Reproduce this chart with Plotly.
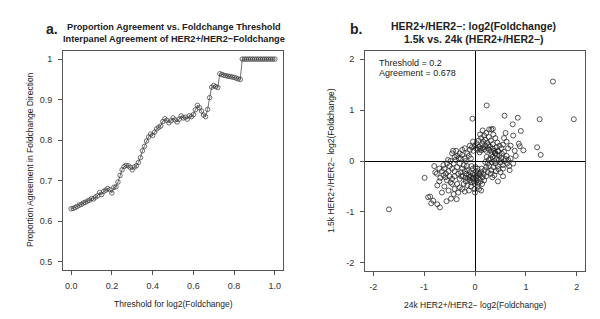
import plotly.graph_objects as go

# ---------------- Panel a data ----------------
threshold = [round(i * 0.01, 2) for i in range(101)]
agreement = [
    0.631, 0.632, 0.634, 0.637, 0.640, 0.642, 0.645, 0.647, 0.650, 0.652,
    0.656, 0.655, 0.660, 0.663, 0.671, 0.666, 0.674, 0.677, 0.681, 0.678,
    0.670, 0.684, 0.685, 0.697, 0.713, 0.727, 0.735, 0.738, 0.737, 0.733,
    0.727, 0.734, 0.737, 0.745, 0.757, 0.774, 0.785, 0.798, 0.808, 0.815,
    0.812, 0.820, 0.828, 0.832, 0.835, 0.846, 0.853, 0.849, 0.843, 0.848,
    0.855, 0.850, 0.845, 0.852, 0.860, 0.855, 0.857, 0.852, 0.860, 0.858,
    0.863, 0.875, 0.886, 0.880, 0.872, 0.862, 0.858, 0.876, 0.905, 0.931,
    0.935, 0.932, 0.930, 0.964, 0.962, 0.960, 0.959, 0.958, 0.957, 0.956,
    0.955, 0.953, 0.951, 0.950, 1.0, 1.0, 1.0, 1.0, 1.0, 1.0,
    1.0, 1.0, 1.0, 1.0, 1.0, 1.0, 1.0, 1.0, 1.0, 1.0, 1.0,
]
a_xticks = [0.0, 0.2, 0.4, 0.6, 0.8, 1.0]
a_xticklabels = ["0.0", "0.2", "0.4", "0.6", "0.8", "1.0"]
a_yticks = [0.5, 0.6, 0.7, 0.8, 0.9, 1.0]
a_yticklabels = ["0.5", "0.6", "0.7", "0.8", "0.9", "1"]

# ---------------- Panel b data ----------------
pts = [
    # top arc
    (0.02,0.25),(0.05,0.22),(0.08,0.28),(0.10,0.24),(0.12,0.21),(0.15,0.26),(0.18,0.23),(0.20,0.30),
    (0.22,0.20),(0.25,0.25),(0.28,0.22),(0.30,0.28),(0.33,0.18),(0.35,0.24),(0.38,0.20),(0.40,0.15),
    (0.42,0.27),(0.45,0.19),(0.03,0.35),(0.07,0.40),(0.12,0.45),(0.16,0.38),(0.20,0.42),(0.24,0.36),
    (0.27,0.47),(0.31,0.40),(0.35,0.33),(0.18,0.50),(0.22,0.55),(0.10,0.52),(0.00,0.30),(-0.03,0.20),
    (-0.06,0.27),(-0.10,0.22),(-0.04,0.38),(0.26,0.31),(0.14,0.33),(0.09,0.17),(0.32,0.12),(0.48,0.30),
    (0.52,0.25),(0.55,0.32),(0.44,0.36),(0.40,0.45),(0.36,0.52),(0.15,0.60),(0.28,0.62),(0.60,0.55),
    (0.57,0.45),(0.62,0.38),
    # right arc
    (0.30,0.05),(0.33,-0.02),(0.35,0.08),(0.38,0.00),(0.40,-0.05),(0.42,0.04),(0.45,-0.10),(0.47,0.02),
    (0.50,-0.03),(0.52,0.06),(0.55,-0.08),(0.58,0.00),(0.60,0.04),(0.63,-0.05),(0.36,-0.12),(0.32,-0.18),
    (0.28,-0.10),(0.25,-0.05),(0.27,0.02),(0.43,0.12),(0.48,0.10),(0.53,0.14),(0.57,0.18),(0.62,0.10),
    (0.65,0.02),(0.41,-0.20),(0.46,-0.16),(0.50,-0.22),(0.38,-0.28),(0.55,-0.15),(0.31,-0.25),(0.25,-0.22),
    (0.22,-0.12),(0.20,-0.02),(0.23,0.08),(0.67,-0.10),(0.70,0.05),(0.45,0.20),(0.39,0.16),(0.34,-0.32),
    # bottom arc
    (-0.20,-0.20),(-0.17,-0.25),(-0.15,-0.18),(-0.12,-0.28),(-0.10,-0.22),(-0.08,-0.30),(-0.05,-0.25),
    (-0.03,-0.33),(0.00,-0.27),(0.02,-0.20),(0.04,-0.30),(0.06,-0.24),(0.08,-0.35),(0.10,-0.28),
    (0.12,-0.22),(0.15,-0.32),(0.17,-0.26),(0.19,-0.18),(-0.02,-0.40),(0.00,-0.45),(0.03,-0.38),
    (-0.06,-0.42),(-0.10,-0.38),(-0.14,-0.35),(-0.18,-0.40),(0.07,-0.43),(0.11,-0.40),(0.14,-0.45),
    (0.05,-0.50),(-0.01,-0.55),(-0.08,-0.50),(-0.15,-0.48),(-0.22,-0.45),(-0.25,-0.55),(-0.20,-0.60),
    (0.00,-0.62),(0.08,-0.55),(0.12,-0.58),(-0.12,-0.58),(-0.04,-0.15),(0.01,-0.12),(-0.07,-0.10),
    (-0.24,-0.30),(-0.28,-0.22),(-0.30,-0.35),(0.18,-0.38),(0.22,-0.30),(-0.16,-0.10),(0.05,-0.15),
    (-0.35,-0.45),(-0.30,-0.52),(-0.40,-0.55),(-0.33,-0.62),(-0.45,-0.45),(0.02,-0.33),(-0.05,-0.35),
    (0.09,-0.25),(-0.11,-0.32),(0.13,-0.15),(-0.19,-0.33),
    # left arc
    (-0.55,-0.05),(-0.50,-0.10),(-0.48,0.00),(-0.45,-0.15),(-0.42,-0.05),(-0.40,-0.20),(-0.38,0.02),
    (-0.35,-0.12),(-0.33,-0.25),(-0.30,-0.05),(-0.28,0.05),(-0.25,-0.15),(-0.22,-0.08),(-0.52,-0.20),
    (-0.57,-0.25),(-0.60,-0.15),(-0.62,-0.28),(-0.65,-0.20),(-0.58,-0.32),(-0.50,-0.30),(-0.45,-0.35),
    (-0.40,-0.30),(-0.35,0.10),(-0.30,0.15),(-0.40,0.08),(-0.45,0.15),(-0.25,0.12),(-0.20,0.05),
    (-0.43,0.20),(-0.37,0.20),(-0.32,0.05),(-0.27,-0.30),(-0.55,-0.38),(-0.68,-0.33),(-0.70,-0.15),
    (-0.75,-0.25),(-0.62,-0.08),(-0.48,-0.42),(-0.18,0.00),(-0.15,0.15),(-0.20,0.25),(-0.12,0.10),
    (-0.25,0.22),(-0.10,0.30),(-0.08,0.05),(-0.53,0.02),
    # lower-left tail
    (-0.99,-0.33),(-0.92,-0.71),(-0.88,-0.70),(-0.86,-0.83),(-0.82,-0.78),(-0.74,-0.85),(-0.69,-0.91),
    (-0.56,-0.79),(-0.47,-0.74),(-0.36,-0.75),(-0.74,-0.48),(-0.70,-0.40),(-0.78,-0.22),(-0.80,-0.10),
    (-0.60,-0.50),(-0.65,-0.62),(-0.52,-0.58),(-0.42,-0.65),(-1.69,-0.95),
    # upper-right tail
    (1.53,1.56),(1.94,0.82),(1.27,0.82),(0.23,1.09),(-0.05,0.83),(0.58,0.89),(0.84,0.85),(0.74,0.72),
    (0.90,0.59),(1.22,0.27),(1.29,0.12),(0.95,0.21),(0.86,0.34),(0.88,0.29),(0.75,0.50),(0.32,0.62),
    (0.35,0.63),(0.70,0.30),(0.80,0.10),(0.75,-0.05),(0.68,-0.18),(0.55,-0.30),(0.45,-0.40),(0.78,0.20),
    (0.65,0.25),
]
fc_24k = [p[0] for p in pts]
fc_15k = [p[1] for p in pts]
b_ticks = [-2, -1, 0, 1, 2]
b_ticklabels = ["-2", "-1", "0", "1", "2"]

FONT = "Liberation Sans, Arial, sans-serif"
INK = "#222222"
BOX = "#555555"

fig = go.Figure()
fig.add_trace(go.Scatter(
    x=threshold, y=agreement, mode="lines+markers",
    line=dict(color="#333333", width=0.7),
    marker=dict(symbol="circle-open", size=4.5, color="#333333", line=dict(width=0.7)),
    xaxis="x", yaxis="y", showlegend=False,
))
fig.add_trace(go.Scatter(
    x=fc_24k, y=fc_15k, mode="markers",
    marker=dict(symbol="circle-open", size=5, color="#222222", line=dict(width=0.75)),
    xaxis="x2", yaxis="y2", showlegend=False,
))

axis_common = dict(
    showline=True, mirror=True, linecolor=BOX, linewidth=1,
    ticks="outside", ticklen=4, tickcolor=BOX, tickwidth=1,
    showgrid=False, tickfont=dict(family=FONT, size=9, color="#333333"),
)

fig.update_layout(
    width=600, height=319,
    margin=dict(l=0, r=0, t=0, b=0),
    paper_bgcolor="white", plot_bgcolor="white",
    xaxis=dict(domain=[55/600, 275/600], range=[-0.04, 1.04], zeroline=False,
               tickvals=a_xticks, ticktext=a_xticklabels, anchor="y",
               ticklabelstandoff=3, **axis_common),
    yaxis=dict(domain=[1-262/319, 1-43/319], range=[0.48, 1.02], zeroline=False,
               tickvals=a_yticks, ticktext=a_yticklabels, anchor="x",
               ticklabelstandoff=4, **axis_common),
    xaxis2=dict(domain=[357/600, 577/600], range=[-2.16, 2.16],
                zeroline=True, zerolinecolor="black", zerolinewidth=1.3,
                tickvals=b_ticks, ticktext=b_ticklabels, anchor="y2",
                ticklabelstandoff=3, **axis_common),
    yaxis2=dict(domain=[1-263/319, 1-43/319], range=[-2.16, 2.16],
                zeroline=True, zerolinecolor="black", zerolinewidth=1.3,
                tickvals=b_ticks, ticktext=b_ticklabels, anchor="x2",
                ticklabelstandoff=4, **axis_common),
)

def ann(text, x, y, size=9, bold=False, angle=0, xanchor="center"):
    fig.add_annotation(
        text=f"<b>{text}</b>" if bold else text,
        x=x/600, y=1-y/319, xref="paper", yref="paper",
        showarrow=False, xanchor=xanchor, yanchor="middle", textangle=angle,
        font=dict(family=FONT, size=size, color=INK),
    )

ann("a.", 44, 21, size=14, bold=True)
ann("Proportion Agreement vs. Foldchange Threshold", 166, 19, size=9.2, bold=True)
ann("Interpanel Agreement of HER2+/HER2\u2212Foldchange", 166, 31, size=9.2, bold=True)
ann("Threshold for log2(Foldchange)", 165, 296, size=8.5)
ann("Proportion Agreement in Foldchange Direction", 22, 152, size=8.5, angle=-90)

ann("b.", 348, 21, size=14, bold=True)
ann("HER2+/HER2\u2212: log2(Foldchange)", 466, 18, size=10.5, bold=True)
ann("1.5k vs. 24k (HER2+/HER2\u2212)", 466, 31, size=10.5, bold=True)
ann("24k HER2+/HER2\u2212 log2(Foldchange)", 467, 297, size=8.5)
ann("1.5k HER2+/HER2\u2212 log2(Foldchange)", 323, 153, size=8.5, angle=-90)
ann("Threshold = 0.2", 369, 55, size=9, xanchor="left")
ann("Agreement = 0.678", 369, 65, size=9, xanchor="left")

fig.write_html("out.html")
